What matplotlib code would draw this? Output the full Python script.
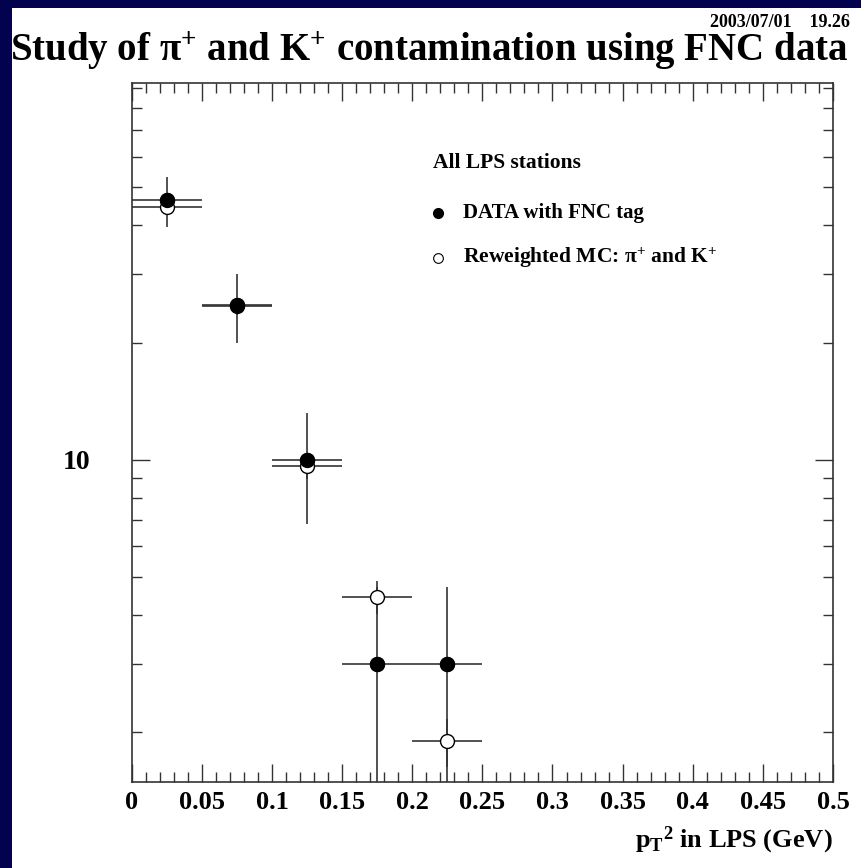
import numpy as np
import matplotlib.pyplot as plt
from matplotlib.patches import Rectangle
from matplotlib.ticker import MultipleLocator, FixedLocator, NullFormatter, FixedFormatter

plt.rcParams['font.family'] = ['Liberation Serif', 'DejaVu Serif']
plt.rcParams['font.weight'] = 'bold'
plt.rcParams['mathtext.fontset'] = 'custom'
plt.rcParams['mathtext.rm'] = 'Liberation Serif:bold'
plt.rcParams['mathtext.it'] = 'Liberation Serif:bold:italic'
plt.rcParams['mathtext.bf'] = 'Liberation Serif:bold'

# pT^2 bin centres and half widths
pt2 = [0.025, 0.075, 0.125, 0.175, 0.225]
half_bin = [0.025, 0.025, 0.025, 0.025, 0.025]

# DATA with FNC tag (counts, sqrt errors)
data_y = [46.4, 25.0, 10.0, 3.0, 3.0]
data_err = [6.8, 5.0, 3.16, 1.73, 1.73]

# Reweighted MC: pi+ and K+
mc_y = [44.6, 24.8, 9.65, 4.46, 1.90]
mc_err = [1.5, 1.2, 0.7, 0.43, 0.27]

navy = '#02024e'
fig = plt.figure(figsize=(8.62, 8.68), dpi=100, facecolor=navy)
fig.patches.append(Rectangle((12 / 862, 0), 1 - 12 / 862, 1 - 8 / 868,
                             transform=fig.transFigure, facecolor='white',
                             edgecolor='none', zorder=-10))

ax = fig.add_axes([131.7 / 862, 1 - 781.5 / 868, (833 - 131.7) / 862, (781.5 - 82.7) / 868])
ax.set_yscale('log')

ax.errorbar(pt2, mc_y, xerr=half_bin, yerr=mc_err, fmt='o', ms=10, mfc='white',
            mec='black', mew=1.0, ecolor='#333333', elinewidth=1.2, capsize=0, zorder=3)
ax.errorbar(pt2, data_y, xerr=half_bin, yerr=data_err, fmt='o', ms=10, mfc='black',
            mec='black', ecolor='#333333', elinewidth=1.2, capsize=0, zorder=2)
ax.plot(pt2, data_y, 'o', ms=10, color='black', zorder=4)

ax.set_xlim(0, 0.5)
ax.set_ylim(1.496, 92.8)

ax.set_xticks(np.arange(0, 0.501, 0.05))
ax.set_xticklabels(['0', '0.05', '0.1', '0.15', '0.2', '0.25', '0.3', '0.35',
                    '0.4', '0.45', '0.5'])
ax.xaxis.set_minor_locator(MultipleLocator(0.01))
ax.yaxis.set_major_locator(FixedLocator([10]))
ax.yaxis.set_major_formatter(FixedFormatter(['10']))
ax.yaxis.set_minor_locator(FixedLocator([2, 3, 4, 5, 6, 7, 8, 9, 20, 30, 40, 50, 60, 70, 80, 90]))
ax.yaxis.set_minor_formatter(NullFormatter())

ax.tick_params(which='both', direction='in', top=True, right=True, width=1.0, color='#333333')
ax.tick_params(which='major', length=13)
ax.tick_params(which='minor', length=7)
ax.tick_params(axis='x', labelsize=19, pad=7)
ax.tick_params(axis='y', labelsize=20, pad=30)
for s in ax.spines.values():
    s.set_linewidth(1.2)
    s.set_color('#333333')

ax.set_xlabel('p$_{\\mathrm{T}}$$^{\\mathrm{2}}$ in LPS (GeV)', fontsize=19, fontweight='bold')
ax.xaxis.set_label_coords(1.0, -0.062)
ax.xaxis.label.set_horizontalalignment('right')
ax.xaxis.label.set_verticalalignment('top')

fig.text(848 / 862, 1 - 61 / 868,
         'Study of $\\mathrm{\\pi}^{+}$ and K$^{+}$ contamination using FNC data',
         ha='right', va='baseline', fontsize=28, fontweight='bold')
fig.text(850 / 862, 1 - 27 / 868, '2003/07/01    19.26', ha='right', va='baseline',
         fontsize=13, fontweight='bold')

# legend drawn as text and markers in axes coordinates
ax.text(0.429, 0.885, 'All LPS stations', transform=ax.transAxes, fontsize=15.5,
        fontweight='bold', va='center')
ax.plot([0.437], [0.813], 'o', ms=7, color='black', transform=ax.transAxes, clip_on=False)
ax.plot([0.437], [0.749], 'o', ms=7, mfc='white', mec='black', mew=0.8,
        transform=ax.transAxes, clip_on=False)
ax.text(0.472, 0.813, 'DATA with FNC tag', transform=ax.transAxes, fontsize=15,
        fontweight='bold', va='center')
ax.text(0.472, 0.749, 'Reweighted MC: $\\mathrm{\\pi}^{+}$ and K$^{+}$',
        transform=ax.transAxes, fontsize=15.5, fontweight='bold', va='center')

fig.savefig('out.png', dpi=100, facecolor=navy)
